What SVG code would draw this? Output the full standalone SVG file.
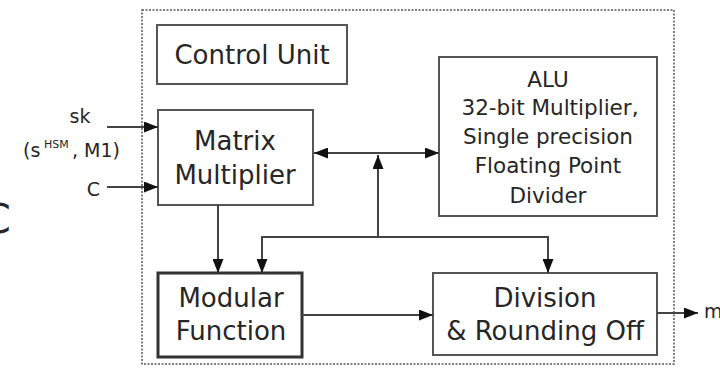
<svg xmlns="http://www.w3.org/2000/svg" width="720" height="370" viewBox="0 0 720 370">
  <defs>
    <style>
      .box { fill: #ffffff; stroke: #555555; stroke-width: 2; }
      .thick { fill: #ffffff; stroke: #333333; stroke-width: 3; }
      .lbl { font-family: "DejaVu Sans", "Liberation Sans", sans-serif; fill: #262626; }
      .big { font-size: 26px; text-anchor: middle; }
      .mid { font-size: 21.5px; text-anchor: middle; }
      .small { font-size: 19px; }
      .wire { fill: none; stroke: #444444; stroke-width: 2; }
    </style>
    <marker id="ah" viewBox="0 0 14 11" refX="14" refY="5.5" markerWidth="14" markerHeight="11" markerUnits="userSpaceOnUse" orient="auto-start-reverse">
      <path d="M0,0 L14,5.5 L0,11 Z" fill="#111111"/>
    </marker>
  </defs>
  <rect width="720" height="370" fill="#ffffff"/>

  <!-- cut-off letter at left edge -->
  <text class="lbl" x="11" y="233" font-size="41" text-anchor="end" fill="#333333">C</text>

  <!-- container -->
  <rect id="container" x="142" y="10" width="532" height="354" fill="none" stroke="#555555" stroke-width="1.5" stroke-dasharray="2 1.5"/>

  <g id="control-unit">
    <rect class="box" x="157" y="25" width="190" height="59"/>
    <text class="lbl big" x="252" y="64">Control Unit</text>
  </g>

  <g id="matrix-multiplier">
    <rect class="box" x="158" y="110" width="155" height="95"/>
    <text class="lbl big" x="235" y="150">Matrix</text>
    <text class="lbl big" x="235" y="184">Multiplier</text>
  </g>

  <g id="alu">
    <rect class="box" x="439" y="57" width="218" height="159"/>
    <text class="lbl mid" x="548" y="87">ALU</text>
    <text class="lbl mid" x="550" y="115">32-bit Multiplier,</text>
    <text class="lbl mid" x="548" y="144">Single precision</text>
    <text class="lbl mid" x="548" y="173">Floating Point</text>
    <text class="lbl mid" x="548" y="203">Divider</text>
  </g>

  <g id="modular-function">
    <rect class="thick" x="158" y="273" width="144" height="84"/>
    <text class="lbl big" x="231" y="307">Modular</text>
    <text class="lbl big" x="231" y="340">Function</text>
  </g>

  <g id="division">
    <rect class="box" x="433" y="273" width="224" height="82"/>
    <text class="lbl big" x="545" y="307">Division</text>
    <text class="lbl big" x="545" y="340">&amp; Rounding Off</text>
  </g>

  <g id="inputs">
    <text class="lbl small" x="80" y="123" text-anchor="middle">sk</text>
    <text class="lbl small" x="23" y="157">(s</text>
    <text class="lbl" x="44" y="148" font-size="11">HSM</text>
    <text class="lbl small" x="72" y="157">, M1)</text>
    <text class="lbl small" x="100" y="196" text-anchor="end">C</text>
    <text class="lbl small" x="704" y="318">m'</text>
  </g>

  <g id="connectors">
    <line class="wire" x1="107" y1="127" x2="158" y2="127" marker-end="url(#ah)"/>
    <line class="wire" x1="107" y1="187" x2="158" y2="187" marker-end="url(#ah)"/>
    <line class="wire" x1="218" y1="205" x2="218" y2="273" marker-end="url(#ah)"/>
    <line class="wire" x1="314" y1="153" x2="439" y2="153" marker-start="url(#ah)" marker-end="url(#ah)"/>
    <line class="wire" x1="378" y1="237" x2="378" y2="155" marker-end="url(#ah)"/>
    <polyline class="wire" points="262,273 262,237 548,237 548,273" marker-start="url(#ah)" marker-end="url(#ah)"/>
    <line class="wire" x1="302" y1="315" x2="433" y2="315" marker-end="url(#ah)"/>
    <line class="wire" x1="657" y1="313" x2="698" y2="313" marker-end="url(#ah)"/>
  </g>
</svg>
